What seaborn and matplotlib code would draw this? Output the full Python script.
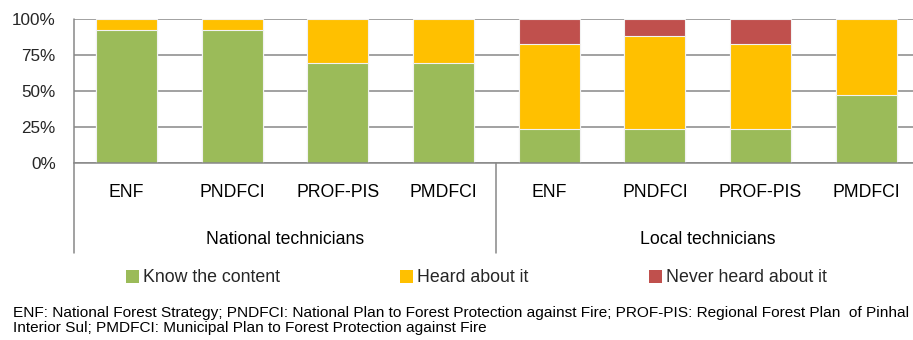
import pandas as pd
import matplotlib
matplotlib.use("Agg")
import matplotlib.pyplot as plt
import matplotlib.transforms as mtransforms
from matplotlib.patches import Patch
import seaborn as sns

# Data: share of respondents (%) per plan and technician group
groups = ["National technicians"] * 4 + ["Local technicians"] * 4
plans = ["ENF", "PNDFCI", "PROF-PIS", "PMDFCI"] * 2
know = [92.3, 92.3, 69.2, 69.2, 23.5, 23.5, 23.5, 47.1]
heard = [7.7, 7.7, 30.8, 30.8, 58.8, 64.7, 58.8, 52.9]
never = [0.0, 0.0, 0.0, 0.0, 17.6, 11.8, 17.6, 0.0]

responses = ["Know the content", "Heard about it", "Never heard about it"]
colors = ["#9BBB59", "#FFC000", "#C0504D"]

footnote = [
    "ENF: National Forest Strategy; PNDFCI: National Plan to Forest Protection against Fire; "
    "PROF-PIS: Regional Forest Plan  of Pinhal",
    "Interior Sul; PMDFCI: Municipal Plan to Forest Protection against Fire",
]


def build_frame():
    df = pd.DataFrame({"group": groups, "plan": plans,
                       "know": know, "heard": heard, "never": never})
    df["slot"] = df["group"] + " | " + df["plan"]
    # cumulative tops for the stacked layers
    df["top_know"] = df["know"]
    df["top_heard"] = df["know"] + df["heard"]
    df["top_never"] = df["know"] + df["heard"] + df["never"]
    return df


def create_plot(df):
    sns.set_theme(style="white")
    plt.rcParams["font.family"] = ["Liberation Sans", "DejaVu Sans"]

    fig = plt.figure(figsize=(9.13, 3.40), dpi=100)
    ax = fig.add_axes([73.7 / 913, 1 - 163 / 340, (919 - 73.7) / 913, 144 / 340])

    # draw tallest layer first so the lower segments sit on top
    for col, color in zip(["top_never", "top_heard", "top_know"], colors[::-1]):
        sns.barplot(data=df, x="slot", y=col, color=color, saturation=1,
                    width=0.58, edgecolor="#f2f2f2", linewidth=0.8,
                    errorbar=None, ax=ax)

    grey = "#878787"
    ax.set_xlim(-0.5, 7.5)
    ax.set_ylim(0, 100)
    ax.set_yticks([0, 25, 50, 75, 100])
    ax.set_yticklabels([f"{v}%" for v in [0, 25, 50, 75, 100]], fontsize=12.3)
    ax.tick_params(axis="y", length=0, pad=13)
    ax.set_xticks([])
    ax.set_xlabel("")
    ax.set_ylabel("")
    ax.set_axisbelow(True)
    ax.yaxis.grid(True, color=grey, linewidth=1.1)
    for side in ["top", "right"]:
        ax.spines[side].set_visible(False)
    ax.spines["bottom"].set_color(grey)
    ax.spines["bottom"].set_linewidth(1.1)
    ax.spines["left"].set_visible(False)

    trans = mtransforms.blended_transform_factory(ax.transData, ax.transAxes)
    # vertical axis line and group separator, running down into the label area
    ax.plot([-0.5, -0.5], [1, -0.625], transform=trans, color=grey,
            linewidth=1.1, clip_on=False)
    ax.plot([3.5, 3.5], [0, -0.625], transform=trans, color=grey,
            linewidth=1.1, clip_on=False)

    for i, plan in enumerate(plans):
        ax.text(i, -0.208, plan, transform=trans, ha="center", va="center",
                fontsize=12.7, color="black")
    for center, name in [(1.5, groups[0]), (5.5, groups[4])]:
        ax.text(center, -0.528, name, transform=trans, ha="center", va="center",
                fontsize=12.7, color="black")

    handles = [Patch(facecolor=c, edgecolor="none", label=r)
               for c, r in zip(colors, responses)]
    fig.legend(handles=handles, loc="center left", ncol=3, frameon=False,
               bbox_to_anchor=(126 / 913, 1 - 278 / 340), fontsize=12.8,
               handlelength=0.74, handleheight=0.74, handletextpad=0.22,
               columnspacing=6.75, borderpad=0, borderaxespad=0)

    for k, line in enumerate(footnote):
        fig.text(13 / 913, 1 - (313 + 15 * k) / 340, line, fontsize=11.05,
                 ha="left", va="center", color="black")

    return fig


def main():
    df = build_frame()
    fig = create_plot(df)
    fig.savefig("out.png", dpi=100)


if __name__ == "__main__":
    main()
